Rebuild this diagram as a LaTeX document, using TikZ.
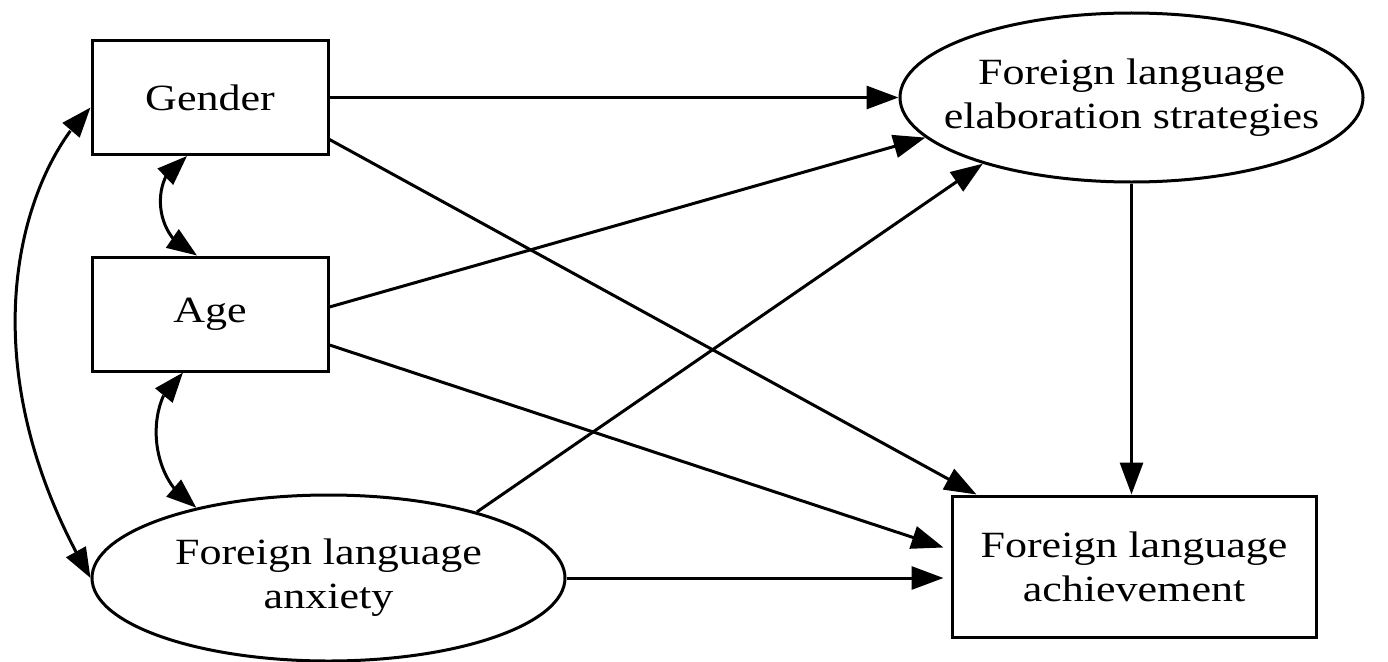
\documentclass[tikz,border=0pt]{standalone}
\usepackage{fontspec}
\setmainfont{Liberation Serif}[FakeStretch=1.19]
\usetikzlibrary{arrows.meta,shapes.geometric,bending}
\begin{document}
\begin{tikzpicture}[x=1pt,y=-1pt,
  every node/.style={font=\fontsize{37}{44}\selectfont, align=center},
  box/.style={draw, line width=3pt, minimum width=236pt, minimum height=114pt, inner sep=0pt},
  oval/.style={draw, ellipse, line width=3pt, inner sep=0pt},
  tipx/.style={Triangle[length=32pt,width=23pt]},
  conn/.style={line width=3pt, -{Triangle[length=32pt,width=23pt]}},
  dconn/.style={line width=3pt, {Triangle[length=30pt,width=22pt]}-{Triangle[length=30pt,width=22pt]}},
]
\useasboundingbox[fill=white] (0,0) rectangle (1388,661);

\node[box] (gender) at (210,97.5) {Gender};
\node[box] (age) at (210,314) {Age};
\node[oval, minimum width=473pt, minimum height=166pt,
      label={center:Foreign language\\anxiety}] (anx) at (328.5,578) {};
\node[oval, minimum width=463pt, minimum height=169pt,
      label={center:Foreign language\\elaboration strategies}] (elab) at (1131.5,97.5) {};
\node[box, minimum width=364pt, minimum height=141pt] (ach) at (1134,566.5) {Foreign language\\achievement};

\draw[conn] (gender.east) -- (elab.west);
\draw[conn] ([yshift=-42pt]gender.east) -- ([xshift=26pt]ach.north west);
\draw[conn] ([yshift=7pt]age.east) -- (elab.191);
\draw[conn] ([yshift=-31pt]age.east) -- ([xshift=-7pt,yshift=19pt]ach.west);
\draw[conn] (anx.24) -- (elab.204);
\draw[conn] (anx.east) -- ([xshift=-7pt]anx.east -| ach.west);
\draw[conn] (elab.south) -- (elab.south |- ach.north);
\draw[dconn] ([xshift=-23pt]gender.south) .. controls +(-37,15) and +(-47,-17) .. ([xshift=-13pt]age.north);
\draw[dconn] ([xshift=-27pt]age.south) .. controls +(-37,22) and +(-52,-29) .. (anx.152);
\draw[dconn] ([yshift=-10pt]gender.west) .. controls +(-70,68) and +(-127,-217) .. (anx.west);
\end{tikzpicture}
\end{document}
